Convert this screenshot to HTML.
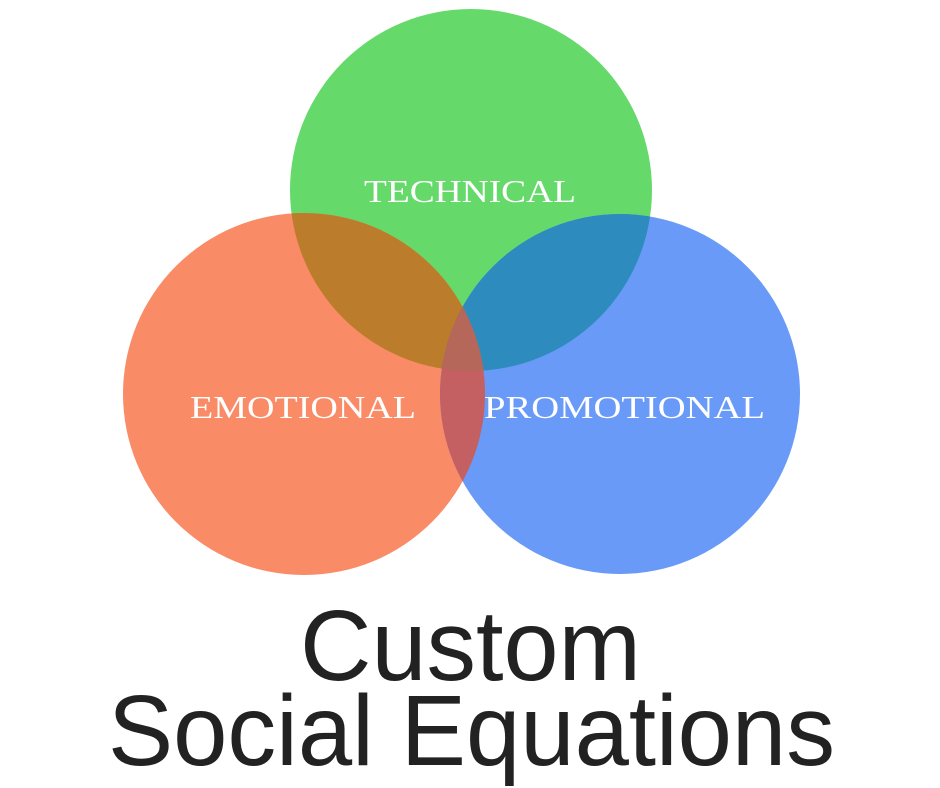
<!DOCTYPE html>
<html><head><meta charset="utf-8"><style>
html,body{margin:0;padding:0;background:#fff;}
svg{display:block;}
</style></head><body>
<svg width="940" height="788" viewBox="0 0 940 788" xmlns="http://www.w3.org/2000/svg">
<defs>
<clipPath id="cg"><circle cx="471" cy="190" r="181"/></clipPath>
<clipPath id="co"><circle cx="304" cy="394" r="181"/></clipPath>
<clipPath id="cb"><circle cx="620" cy="394" r="180"/></clipPath>
</defs>
<rect width="940" height="788" fill="#fff"/>
<circle cx="471" cy="190" r="181" fill="#66d96b"/>
<circle cx="304" cy="394" r="181" fill="#f98b66"/>
<circle cx="620" cy="394" r="180" fill="#6a9af7"/>
<g clip-path="url(#cg)"><circle cx="304" cy="394" r="181" fill="#bb7d2b"/><circle cx="620" cy="394" r="180" fill="#2e8bbd"/></g>
<g clip-path="url(#co)"><circle cx="620" cy="394" r="180" fill="#c45f62"/></g>
<g clip-path="url(#cg)"><g clip-path="url(#co)"><circle cx="620" cy="394" r="180" fill="#b5675a"/></g></g>
<g font-family="Liberation Serif, serif" fill="#fff" font-size="32">
<text x="364" y="202" textLength="212" lengthAdjust="spacingAndGlyphs">TECHNICAL</text>
<text x="190" y="418" textLength="226" lengthAdjust="spacingAndGlyphs">EMOTIONAL</text>
<text x="484" y="418" textLength="281" lengthAdjust="spacingAndGlyphs">PROMOTIONAL</text>
</g>
<g font-family="Liberation Sans, sans-serif" fill="#222" font-size="100">
<text x="300" y="680" textLength="341" lengthAdjust="spacingAndGlyphs">Custom</text>
<text x="108" y="765" textLength="727" lengthAdjust="spacingAndGlyphs">Social Equations</text>
</g>
</svg>
</body></html>
